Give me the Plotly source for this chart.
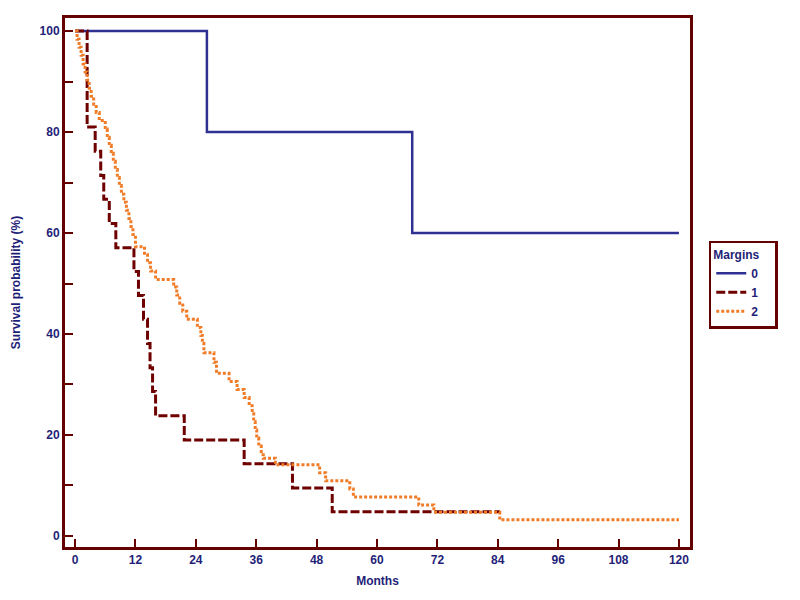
import plotly.graph_objects as go

# Margins = 0
t0 = [0, 26.2, 67.0, 120]
s0 = [100, 80, 60, 60]

# Margins = 1 (time of step, survival after step)
t1 = [0, 2.4, 4.0, 5.1, 5.7, 6.8, 8.1, 11.7, 12.6, 13.6, 14.4, 14.9, 15.4, 16.0, 21.7, 33.6, 43.2, 51.1, 84.4]
s1 = [100, 81.0, 76.2, 71.4, 66.7, 61.9, 57.1, 52.4, 47.6, 42.9, 38.1, 33.3, 28.6, 23.8, 19.0, 14.3, 9.5, 4.8, 4.8]

# Margins = 2 (time of step, survival after step)
t2 = [0, 0.4, 0.8, 1.2, 1.6, 2.0, 2.4, 2.8, 3.2, 3.7, 4.2, 4.8,
      6.0, 6.4, 6.8, 7.2, 7.6, 8.0, 8.4, 8.8, 9.2, 9.7, 10.2, 10.7, 11.1, 11.5, 12.0,
      13.8, 14.4, 15.0, 16.0,
      19.6, 20.2, 20.8, 21.4, 22.2,
      24.3, 25.0, 25.3, 25.6,
      27.6, 28.1,
      30.6, 32.2, 33.6, 34.6, 35.2, 35.5, 35.8, 36.1, 36.5, 37.0, 37.4,
      39.8, 48.6, 49.8, 54.6, 55.3, 68.3, 71.3, 84.4, 120]
s2 = [100, 98.4, 96.8, 95.2, 93.5, 91.9, 90.3, 88.7, 87.1, 85.5, 83.9, 82.3,
      80.6, 79.0, 77.4, 75.8, 74.2, 72.6, 71.0, 69.4, 67.7, 66.1, 64.5, 62.9, 61.3, 59.7, 57.3,
      55.7, 54.1, 52.5, 50.8,
      49.3, 47.7, 46.1, 44.5, 42.9,
      41.3, 39.7, 38.1, 36.3,
      34.4, 32.2,
      30.6, 29.0, 27.4, 25.8, 24.2, 22.6, 21.0, 19.4, 17.8, 16.1, 15.4,
      14.1, 12.5, 10.9, 9.3, 7.7, 6.1, 4.7, 3.2, 3.2]

x_ticks = [0, 12, 24, 36, 48, 60, 72, 84, 96, 108, 120]
y_ticks = [0, 20, 40, 60, 80, 100]
y_minor = [10, 30, 50, 70, 90]
legend_names = ["0", "1", "2"]

NAVY = "#1f1f78"
FRAME = "#650000"
FONT = "Liberation Sans, Arial, sans-serif"

fig = go.Figure()
fig.add_trace(go.Scatter(x=t0, y=s0, mode="lines", line_shape="hv", name=f"<b>{legend_names[0]}</b>",
                         line=dict(color="#2e3192", width=2.5)))
fig.add_trace(go.Scatter(x=t1, y=s1, mode="lines", line_shape="hv", name=f"<b>{legend_names[1]}</b>",
                         line=dict(color="#6e0000", width=3, dash="9px,3px")))
fig.add_trace(go.Scatter(x=t2, y=s2, mode="lines", line_shape="hv", name=f"<b>{legend_names[2]}</b>",
                         line=dict(color="#f07c28", width=3, dash="3px,2px")))

axis_common = dict(showline=True, linecolor=FRAME, linewidth=3, mirror=True,
                   ticks="inside", ticklen=8, tickwidth=2, tickcolor=FRAME,
                   showgrid=False, zeroline=False, automargin=False,
                   tickfont=dict(family=FONT, size=12, color=NAVY))

fig.update_xaxes(range=[-2.0, 122.2], tickvals=x_ticks, ticktext=[f"<b>{v}</b>" for v in x_ticks],
                 title=dict(text="<b>Months</b>", font=dict(family=FONT, size=12, color=NAVY), standoff=11),
                 **axis_common)
fig.update_yaxes(range=[-2.2, 102.6], tickvals=y_ticks, ticktext=[f"<b>{v}</b>" for v in y_ticks],
                 minor=dict(tickvals=y_minor, ticks="inside", ticklen=8, tickwidth=2, tickcolor=FRAME),
                 title=dict(text="<b>Survival probability (%)</b>", font=dict(family=FONT, size=12, color=NAVY), standoff=17),
                 **axis_common)

fig.update_layout(
    width=792, height=592,
    margin=dict(l=57, r=110, t=10, b=53),
    paper_bgcolor="white", plot_bgcolor="white",
    font=dict(family=FONT, size=12, color=NAVY),
    legend=dict(x=1.03, y=0.579, xanchor="left", yanchor="top",
                bordercolor=FRAME, borderwidth=2.5, bgcolor="white",
                title=dict(text="<b>Margins</b>&nbsp;&nbsp;&nbsp;&nbsp;", font=dict(family=FONT, size=12, color=NAVY)),
                font=dict(family=FONT, size=12, color=NAVY), tracegroupgap=0,
                itemwidth=30),
)

fig.write_html("out.html")
